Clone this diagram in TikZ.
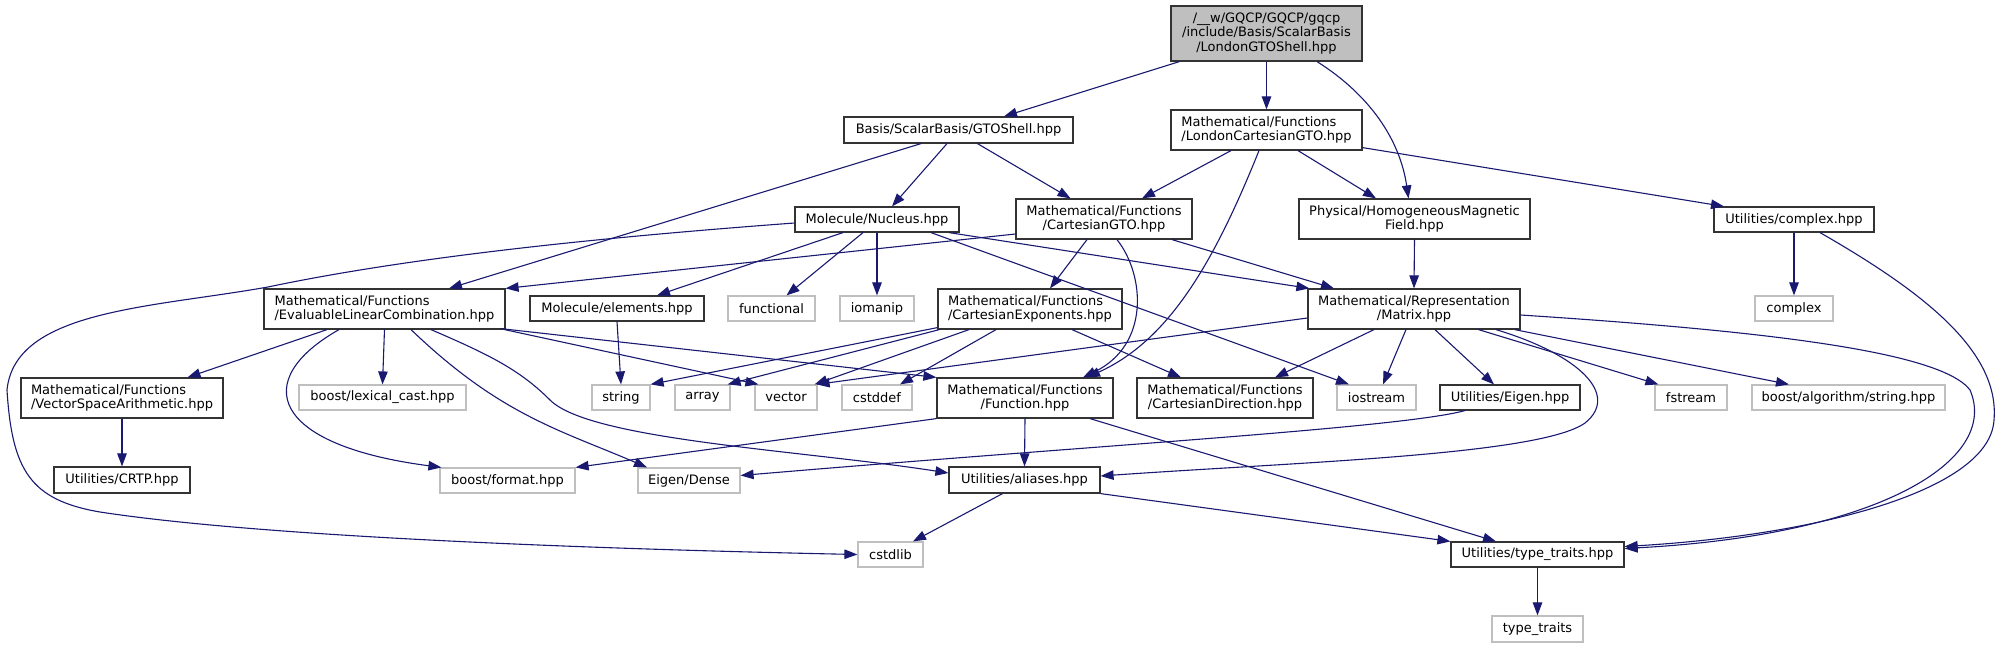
\documentclass[tikz,border=0pt]{standalone}
\usepackage{fontspec}
\setmainfont{DejaVu Sans}
\usetikzlibrary{arrows.meta}
\definecolor{edgec}{HTML}{191970}
\definecolor{sysc}{HTML}{BFBFBF}
\definecolor{rootfill}{HTML}{BFBFBF}
\definecolor{docb}{HTML}{333333}
\tikzset{
  base/.style={rectangle, inner sep=0pt, font=\fontsize{13}{14.2}\selectfont, align=center, line width=1.2pt},
  doc/.style={base, draw=docb, fill=white},
  sys/.style={base, draw=sysc, fill=white},
  rootn/.style={base, draw=docb, fill=rootfill},
  sz/.style 2 args={minimum width=#1pt, minimum height=#2pt},
  e/.style={draw=edgec, line width=1.1pt, -{Triangle[length=13pt,width=9.5pt]}}
}
\begin{document}
\begin{tikzpicture}[x=1pt,y=-1pt]
\useasboundingbox (0,0) rectangle (2006,648);
% nodes
\node[rootn, sz={191}{55}] (root) at (1266.5,33.5) {/\_\_w/GQCP/GQCP/gqcp\\/include/Basis/ScalarBasis\\/LondonGTOShell.hpp};
\node[doc, sz={229}{26}] (gto) at (958.5,130) {Basis/ScalarBasis/GTOShell.hpp};
\node[doc, sz={191}{40}, align=left] (lcgto) at (1266.5,130) {Mathematical/Functions\\/LondonCartesianGTO.hpp};
\node[doc, sz={164}{25}] (nuc) at (877,219.5) {Molecule/Nucleus.hpp};
\node[doc, sz={176}{40}] (cgto) at (1104,219) {Mathematical/Functions\\/CartesianGTO.hpp};
\node[doc, sz={231}{40}] (hmf) at (1414.5,219) {Physical/HomogeneousMagnetic\\Field.hpp};
\node[doc, sz={160}{25}] (cplxh) at (1794,219.5) {Utilities/complex.hpp};
\node[doc, sz={241}{40}, align=left] (elc) at (384.5,309) {Mathematical/Functions\\/EvaluableLinearCombination.hpp};
\node[doc, sz={174}{25}] (elem) at (617,308.5) {Molecule/elements.hpp};
\node[sys, sz={87}{25}] (functional) at (771.5,308.5) {functional};
\node[sys, sz={74}{25}] (iomanip) at (877,308.5) {iomanip};
\node[doc, sz={184}{40}, align=left] (cexp) at (1030,309) {Mathematical/Functions\\/CartesianExponents.hpp};
\node[doc, sz={212}{40}] (matrix) at (1414,309) {Mathematical/Representation\\/Matrix.hpp};
\node[sys, sz={78}{25}] (complex) at (1794,308.5) {complex};
\node[doc, sz={202}{40}, align=left] (vsa) at (122,398) {Mathematical/Functions\\/VectorSpaceArithmetic.hpp};
\node[sys, sz={167}{25}] (lexcast) at (382.5,397.5) {boost/lexical\_cast.hpp};
\node[sys, sz={58}{25}] (string) at (621,397.5) {string};
\node[sys, sz={55}{25}] (array) at (702.5,397.5) {array};
\node[sys, sz={62}{25}] (vector) at (786,397.5) {vector};
\node[sys, sz={70}{25}] (cstddef) at (877,397.5) {cstddef};
\node[doc, sz={176}{40}] (func) at (1025,398) {Mathematical/Functions\\/Function.hpp};
\node[doc, sz={176}{40}] (cdir) at (1225,398) {Mathematical/Functions\\/CartesianDirection.hpp};
\node[sys, sz={79}{25}] (iostream) at (1376.5,397.5) {iostream};
\node[doc, sz={140}{25}] (ueigen) at (1510,397.5) {Utilities/Eigen.hpp};
\node[sys, sz={72}{25}] (fstream) at (1691,397.5) {fstream};
\node[sys, sz={193}{25}] (bas) at (1848.5,397.5) {boost/algorithm/string.hpp};
\node[doc, sz={136}{26}] (crtp) at (122,480) {Utilities/CRTP.hpp};
\node[sys, sz={135}{25}] (bformat) at (507.5,480.5) {boost/format.hpp};
\node[sys, sz={102}{25}] (edense) at (689,480.5) {Eigen/Dense};
\node[doc, sz={151}{26}] (aliases) at (1024.5,480) {Utilities/aliases.hpp};
\node[sys, sz={65}{25}] (cstdlib) at (890.5,554.5) {cstdlib};
\node[doc, sz={173}{25}] (tth) at (1537.5,554.5) {Utilities/type\_traits.hpp};
\node[sys, sz={91}{26}] (tt) at (1537.5,629) {type\_traits};
% edges from root
\draw[e] ([xshift=9pt]root.south west) -- ([xshift=45.5pt]gto.north);
\draw[e] (root.south) -- (lcgto.north);
\draw[e] ([xshift=50.5pt]root.south) .. controls (1370,95) and (1400,140) .. ([xshift=-6pt]hmf.north);
% GTOShell
\draw[e] ([xshift=-37.5pt]gto.south) -- ([xshift=64.5pt]elc.north);
\draw[e] ([xshift=-11.5pt]gto.south) -- ([xshift=15pt]nuc.north);
\draw[e] ([xshift=19pt]gto.south) -- ([xshift=-33.5pt]cgto.north);
% LondonCartesianGTO
\draw[e] ([xshift=-35.5pt]lcgto.south) -- ([xshift=38pt]cgto.north);
\draw[e] ([xshift=-7.5pt]lcgto.south) .. controls (1215,260) and (1170,340) .. ([xshift=62pt]func.north);
\draw[e] ([xshift=31.5pt]lcgto.south) -- ([xshift=-38.5pt]hmf.north);
\draw[e] ([yshift=3pt]lcgto.south east) -- ([xshift=-70pt]cplxh.north);
% Nucleus
\draw[e] ([yshift=-3.5pt]nuc.west) .. controls (620,236) and (420,255) .. (268,287)
   .. controls (150,308) and (15,310) .. (7,390)
   .. controls (12,470) and (30,500) .. (100,512)
   .. controls (250,535) and (550,548) .. (cstdlib.west);
\draw[e] ([xshift=-34pt]nuc.south) -- ([xshift=40pt]elem.north);
\draw[e] ([xshift=-14pt]nuc.south) -- ([xshift=15pt]functional.north);
\draw[e] (nuc.south) -- (iomanip.north);
\draw[e] ([xshift=54pt]nuc.south) -- ([xshift=-27.5pt]iostream.north);
\draw[e] ([xshift=72pt]nuc.south) -- ([xshift=2pt]matrix.north west);
% CartesianGTO
\draw[e] ([yshift=-15pt]cgto.west) -- (elc.north east);
\draw[e] ([xshift=-17pt]cgto.south) -- ([xshift=20pt]cexp.north);
\draw[e] ([xshift=13pt]cgto.south) .. controls (1145,275) and (1150,345) .. ([xshift=58pt]func.north);
\draw[e] ([xshift=68pt]cgto.south) -- ([xshift=-80pt]matrix.north);
% HMF, complex
\draw[e] (hmf.south) -- (matrix.north);
\draw[e] (cplxh.south) -- (complex.north);
\draw[e] ([xshift=26pt]cplxh.south) .. controls (1920,290) and (2000,350) .. (1994,420)
   .. controls (1990,490) and (1820,535) .. ([yshift=8pt]tth.east);
% ELC
\draw[e] ([xshift=-57.5pt]elc.south) -- ([xshift=65.5pt]vsa.north);
\draw[e] ([xshift=-45.5pt]elc.south) .. controls (250,380) and (270,445) .. ([xshift=2pt]bformat.north west);
\draw[e] (elc.south) -- (lexcast.north);
\draw[e] ([xshift=26.5pt]elc.south) .. controls (500,415) and (560,430) .. ([xshift=-42pt]edense.north);
\draw[e] ([xshift=46.5pt]elc.south) .. controls (490,355) and (520,370) .. (550,400)
   .. controls (590,440) and (800,450) .. ([yshift=7pt]aliases.west);
\draw[e] ([xshift=-1pt]elc.south east) -- ([xshift=4pt]vector.north west);
\draw[e] ([xshift=-5pt,yshift=1pt]elc.south east) -- (func.north west);
% elements
\draw[e] (elem.south) -- (string.north);
% CartesianExponents
\draw[e] ([yshift=2pt]cexp.south west) -- (string.north east);
\draw[e] ([xshift=2pt]cexp.south west) -- ([xshift=-3pt]array.north east);
\draw[e] ([xshift=-61pt]cexp.south) -- ([xshift=-3pt]vector.north east);
\draw[e] ([xshift=-34pt]cexp.south) -- ([xshift=23pt]cstddef.north);
\draw[e] ([xshift=42pt]cexp.south) -- ([xshift=-44pt]cdir.north);
% Matrix
\draw[e] ([yshift=-9pt]matrix.west) -- ([xshift=-1pt]vector.north east);
\draw[e] ([xshift=-40pt]matrix.south) -- ([xshift=50pt]cdir.north);
\draw[e] ([xshift=-8pt]matrix.south) -- ([xshift=6.5pt]iostream.north);
\draw[e] ([xshift=21pt]matrix.south) -- ([xshift=-16pt]ueigen.north);
\draw[e] ([xshift=64.5pt]matrix.south) -- ([xshift=4pt]fstream.north west);
\draw[e] ([xshift=-6pt]matrix.south east) -- ([xshift=-59.5pt]bas.north);
\draw[e] ([xshift=82pt]matrix.south) .. controls (1580,355) and (1620,395) .. (1585,423)
   .. controls (1540,455) and (1300,462) .. ([yshift=4pt]aliases.east);
\draw[e] ([yshift=-6pt]matrix.east) .. controls (1750,330) and (1940,350) .. (1970,390)
   .. controls (2000,460) and (1880,535) .. ([yshift=6pt]tth.east);
% Utilities/Eigen
\draw[e] ([xshift=-45pt]ueigen.south) .. controls (1400,428) and (1100,445) .. ([yshift=5pt]edense.east);
% Function
\draw[e] (func.south west) -- (bformat.north east);
\draw[e] (func.south) -- (aliases.north);
\draw[e] ([xshift=65pt]func.south) -- ([xshift=-41.5pt]tth.north);
% aliases
\draw[e] ([xshift=-22pt]aliases.south) -- ([xshift=22.5pt]cstdlib.north);
\draw[e] (aliases.south east) -- (tth.north west);
% VSA, type_traits
\draw[e] (vsa.south) -- (crtp.north);
\draw[e] (tth.south) -- (tt.north);
\end{tikzpicture}
\end{document}
